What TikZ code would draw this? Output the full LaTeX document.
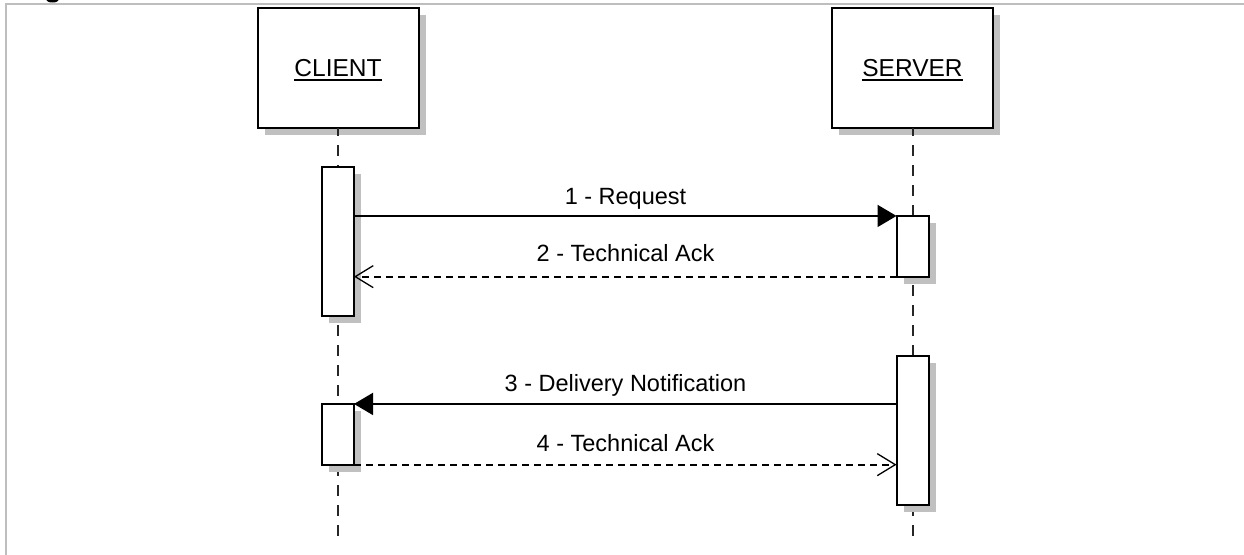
\documentclass[tikz,border=0pt]{standalone}
\usepackage{fontspec}
\setmainfont{Liberation Sans}
\usetikzlibrary{arrows.meta,shadows}
\definecolor{shgray}{HTML}{C0C0C0}
\definecolor{framegray}{HTML}{BEBEBE}
\begin{document}
\begin{tikzpicture}[x=1pt,y=-1pt,
  boxshadow/.style={drop shadow={shadow xshift=7pt,shadow yshift=-7pt,fill=shgray,opacity=1}},
  objbox/.style={draw=black,line width=2pt,fill=white,minimum width=161pt,minimum height=120pt,inner sep=0pt,outer sep=0pt,boxshadow},
  actbox/.style={draw=black,line width=2pt,fill=white,minimum width=32pt,inner sep=0pt,outer sep=0pt,boxshadow},
  objtext/.style={inner sep=0pt,outer sep=0pt,anchor=base,font=\fontsize{24.5}{29}\selectfont},
  msglabel/.style={inner sep=0pt,outer sep=0pt,anchor=base,font=\fontsize{23.5}{28}\selectfont},
  lifeline/.style={draw=black!85,line width=2pt,dash pattern=on 11pt off 9pt,dash phase=2.5pt},
  sync/.style={draw=black,line width=1.7pt,-{Triangle[length=19pt,width=22pt]}},
  reply/.style={draw=black,line width=1.7pt,dash pattern=on 7pt off 5pt,-{Straight Barb[length=18pt,width=22pt,line width=1.3pt]}}
]
\useasboundingbox (0,0) rectangle (1244,554);
\fill[white] (0,0) rectangle (1244,554);
% frame
\draw[framegray,line width=2pt] (5.5,600) -- (5.5,3.5) -- (1300,3.5);
\fill[black] (52.5,-0.5) ellipse [x radius=6.5, y radius=3];

% objects
\node[objbox] (client) at (338,67.5) {};
\node[objbox] (server) at (912.5,67.5) {};
\node[objtext] (ct) at (338,76.7) {CLIENT};
\node[objtext] (st) at (912.5,76.7) {SERVER};
\draw[line width=1.5pt] ([yshift=-3.5pt]ct.base west) -- ([yshift=-3.5pt]ct.base east);
\draw[line width=1.5pt] ([yshift=-3.5pt]st.base west) -- ([yshift=-3.5pt]st.base east);

% lifelines
\coordinate (cend) at (338,538);
\coordinate (send) at (912.5,538);
\draw[lifeline] (client.south) -- (cend);
\draw[lifeline] (server.south) -- (send);

% activations
\node[actbox,minimum height=148.7pt] (ca1) at (338,241.7) {};
\node[actbox,minimum height=60.7pt] (sa1) at (912.5,246.3) {};
\node[actbox,minimum height=148.7pt] (sa2) at (912.5,430.3) {};
\node[actbox,minimum height=60.7pt] (ca2) at (338,434.3) {};

% messages
\draw[sync] (ca1.east |- sa1.north) -- (sa1.north west);
\node[msglabel] (m1) at (625.5,204) {1 - Request};
\draw[reply] (sa1.south west) -- (ca1.east |- sa1.south);
\node[msglabel] (m2) at (625.5,261.7) {2 - Technical Ack};
\draw[sync] (sa2.west |- ca2.north) -- (ca2.north east);
\node[msglabel] (m3) at (625.5,391.7) {3 - Delivery Notification};
\draw[reply] (ca2.south east) -- (sa2.west |- ca2.south);
\node[msglabel] (m4) at (625.5,451.7) {4 - Technical Ack};
\end{tikzpicture}
\end{document}
